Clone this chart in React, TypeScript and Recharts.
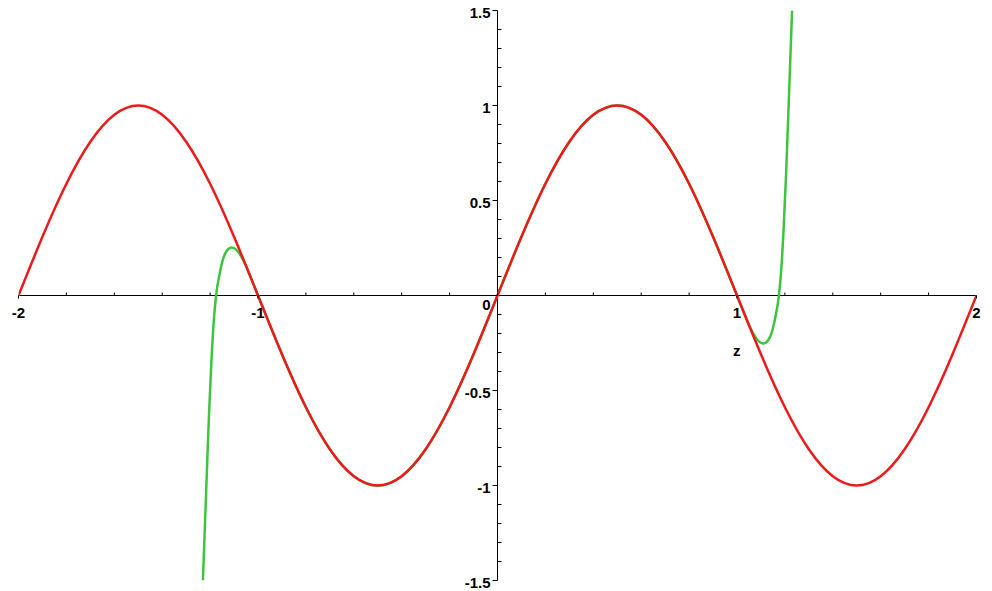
import React from 'react'
import { LineChart, Line, XAxis, YAxis, ReferenceLine } from 'recharts'

/* ---------- Data ---------- */

// red curve, sampled every 0.1 along z
const SINE_X = [
    -2, -1.9, -1.8, -1.7, -1.6, -1.5, -1.4, -1.3, -1.2, -1.1,
    -1, -0.9, -0.8, -0.7, -0.6, -0.5, -0.4, -0.3, -0.2, -0.1,
    0, 0.1, 0.2, 0.3, 0.4, 0.5, 0.6, 0.7, 0.8, 0.9,
    1, 1.1, 1.2, 1.3, 1.4, 1.5, 1.6, 1.7, 1.8, 1.9, 2,
]
const SINE_Y = [
    0, 0.309, 0.588, 0.809, 0.951, 1, 0.951, 0.809, 0.588, 0.309,
    0, -0.309, -0.588, -0.809, -0.951, -1, -0.951, -0.809, -0.588, -0.309,
    0, 0.309, 0.588, 0.809, 0.951, 1, 0.951, 0.809, 0.588, 0.309,
    0, -0.309, -0.588, -0.809, -0.951, -1, -0.951, -0.809, -0.588, -0.309, 0,
]

// green curve (follows the red one inside [-1, 1], breaks away past it)
const APPROX_X = [
    -1.23, -1.215, -1.205, -1.195, -1.185, -1.175, -1.16, -1.145, -1.13, -1.11,
    -1.09, -1.07, -1.05, -1.03, -1,
    -0.9, -0.8, -0.7, -0.6, -0.5, -0.4, -0.3, -0.2, -0.1, 0,
    0.1, 0.2, 0.3, 0.4, 0.5, 0.6, 0.7, 0.8, 0.9,
    1, 1.03, 1.05, 1.07, 1.09, 1.11, 1.13, 1.145, 1.16, 1.175,
    1.185, 1.195, 1.205, 1.215, 1.23,
]
const APPROX_Y = [
    -1.5, -0.98, -0.64, -0.36, -0.14, 0, 0.115, 0.195, 0.235, 0.252,
    0.24, 0.205, 0.155, 0.094, 0,
    -0.309, -0.588, -0.809, -0.951, -1, -0.951, -0.809, -0.588, -0.309, 0,
    0.309, 0.588, 0.809, 0.951, 1, 0.951, 0.809, 0.588, 0.309,
    0, -0.094, -0.155, -0.205, -0.24, -0.252, -0.235, -0.195, -0.115, 0,
    0.14, 0.36, 0.64, 0.98, 1.5,
]

const X_TICKS = [
    -2, -1.8, -1.6, -1.4, -1.2, -1, -0.8, -0.6, -0.4, -0.2, 0,
    0.2, 0.4, 0.6, 0.8, 1, 1.2, 1.4, 1.6, 1.8, 2,
]
const X_LABELS = [-2, -1, 1, 2]

const Y_TICKS = [
    -1.5, -1.4, -1.3, -1.2, -1.1, -1, -0.9, -0.8, -0.7, -0.6, -0.5,
    -0.4, -0.3, -0.2, -0.1, 0, 0.1, 0.2, 0.3, 0.4, 0.5,
    0.6, 0.7, 0.8, 0.9, 1, 1.1, 1.2, 1.3, 1.4, 1.5,
]
const Y_LABELS = [-1.5, -1, -0.5, 0, 0.5, 1, 1.5]

const sineData = SINE_X.map((x, i) => ({ x, y: SINE_Y[i] }))
const approxData = APPROX_X.map((x, i) => ({ x, y: APPROX_Y[i] }))

/* ---------- Layout ---------- */

const W = 992
const H = 591
const AXIS_W = 1 // space the (invisible) axes take
// half-pixel offsets keep the 1px axis lines crisp
const MARGIN = { top: 10.5, right: 15.5, bottom: 10.5 - AXIS_W, left: 18.5 - AXIS_W }
const ZERO_X = 18.5 + (W - 18.5 - 15.5) / 2
const ZERO_Y = 10.5 + (H - 10.5 - 10.5) / 2

const FONT = '"Liberation Sans", Arial, sans-serif'
const RED = '#ec1a1a'
const GREEN = '#3fc43f'

// Maple style: axes go through the origin, so ticks are drawn on the zero lines
const renderXTick = (props: any) => {
    const { x, payload } = props
    const v = payload.value
    const major = X_LABELS.includes(v)
    return (
        <g key={`xt-${v}`}>
            {major ? (
                <line x1={x} x2={x} y1={ZERO_Y} y2={ZERO_Y + 3} stroke="#000" />
            ) : (
                <line x1={x} x2={x} y1={ZERO_Y - 3} y2={ZERO_Y} stroke="#000" />
            )}
            {major && (
                <text
                    x={x}
                    y={ZERO_Y + 17}
                    textAnchor="middle"
                    dominantBaseline="central"
                    fontFamily={FONT}
                    fontWeight="bold"
                    fontSize={15}
                    fill="#000"
                >
                    {String(v)}
                </text>
            )}
        </g>
    )
}

const renderYTick = (props: any) => {
    const { y, payload } = props
    const v = payload.value
    const major = Y_LABELS.includes(v)
    return (
        <g key={`yt-${v}`}>
            {major ? (
                <line x1={ZERO_X - 5} x2={ZERO_X} y1={y} y2={y} stroke="#000" />
            ) : (
                <line x1={ZERO_X} x2={ZERO_X + 4} y1={y} y2={y} stroke="#000" />
            )}
            {major && (
                <text
                    x={ZERO_X - 7}
                    y={y + (v === 0 ? 9 : 2)}
                    textAnchor="end"
                    dominantBaseline="central"
                    fontFamily={FONT}
                    fontWeight="bold"
                    fontSize={15}
                    fill="#000"
                >
                    {String(v)}
                </text>
            )}
        </g>
    )
}

export default function App() {
    return (
        <div style={{ position: 'absolute', left: 0, top: 0, width: W, height: H, background: '#fff' }}>
            <LineChart width={W} height={H} margin={MARGIN}>
                <XAxis
                    type="number"
                    dataKey="x"
                    domain={[-2, 2]}
                    ticks={X_TICKS}
                    interval={0}
                    height={AXIS_W}
                    axisLine={false}
                    tickLine={false}
                    tick={renderXTick}
                    allowDataOverflow
                />
                <YAxis
                    type="number"
                    dataKey="y"
                    domain={[-1.5, 1.5]}
                    ticks={Y_TICKS}
                    interval={0}
                    width={AXIS_W}
                    axisLine={false}
                    tickLine={false}
                    tick={renderYTick}
                    allowDataOverflow
                />

                <ReferenceLine y={0} stroke="#000" strokeWidth={1} />
                <ReferenceLine x={0} stroke="#000" strokeWidth={1} />

                <Line
                    data={approxData}
                    dataKey="y"
                    type="monotone"
                    dot={false}
                    stroke={GREEN}
                    strokeWidth={2.5}
                    isAnimationActive={false}
                />
                <Line
                    data={sineData}
                    dataKey="y"
                    type="natural"
                    dot={false}
                    stroke={RED}
                    strokeWidth={2.5}
                    isAnimationActive={false}
                />
            </LineChart>
            <div
                style={{
                    position: 'absolute',
                    left: 733,
                    top: 343,
                    fontFamily: FONT,
                    fontWeight: 'bold',
                    fontSize: 15,
                    lineHeight: '15px',
                }}
            >
                z
            </div>
        </div>
    )
}
